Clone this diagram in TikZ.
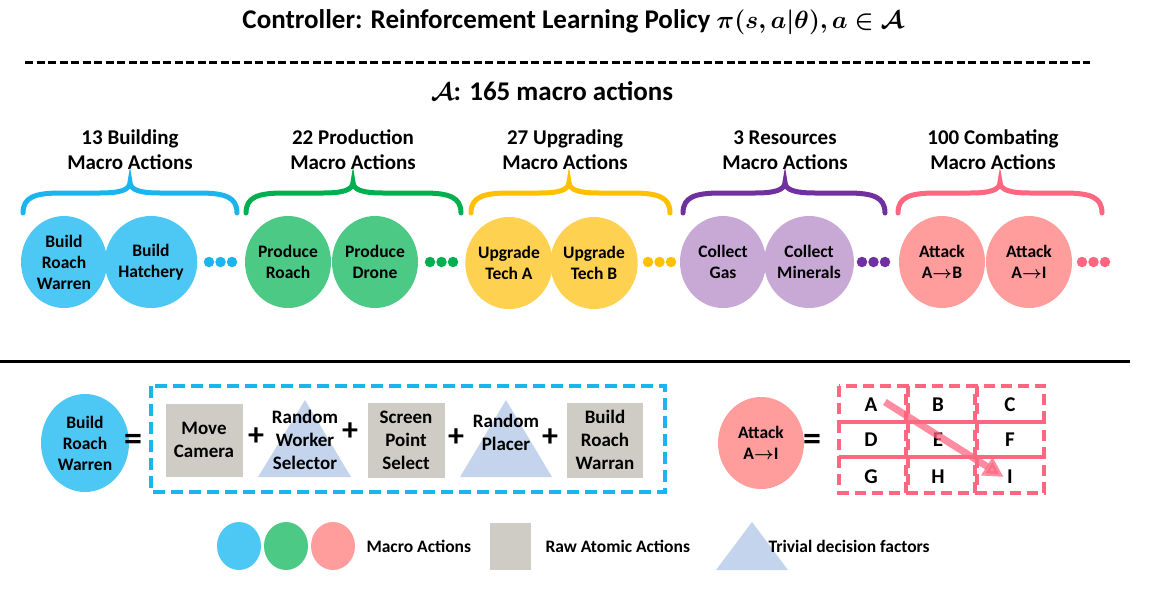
\documentclass[tikz,border=0pt]{standalone}
\usepackage{fontspec}
\usepackage{bm}
\setmainfont{Carlito}
\usetikzlibrary{shapes.geometric,arrows.meta}
\definecolor{cblue}{HTML}{4DC8F4}
\definecolor{cgreen}{HTML}{4CC985}
\definecolor{cyellow}{HTML}{FFD150}
\definecolor{cpurple}{HTML}{C8A9D5}
\definecolor{cpink}{HTML}{FF9C9C}
\definecolor{bblue}{HTML}{1CB4EC}
\definecolor{bgreen}{HTML}{00B050}
\definecolor{byellow}{HTML}{FFC000}
\definecolor{bpurple}{HTML}{7030A0}
\definecolor{bpink}{HTML}{FF6680}
\definecolor{rawgray}{HTML}{CFCCC5}
\definecolor{trib}{HTML}{C3D4EC}
\tikzset{
  macro/.style={ellipse, minimum width=86pt, minimum height=92pt, inner sep=0pt,
    align=center, font=\bfseries\fontsize{17.5}{21}\selectfont, text=black},
  header/.style={align=center, font=\bfseries\fontsize{21}{25}\selectfont},
  bracepath/.style={line width=5pt, line cap=round},
  dotmark/.style={circle, inner sep=0pt, minimum size=10.5pt},
  rawbox/.style={fill=rawgray, align=center, font=\bfseries\fontsize{19}{23}\selectfont},
  plus/.style={font=\bfseries\fontsize{32}{32}\selectfont},
  tri/.style={fill=trib},
  tritext/.style={align=center, font=\bfseries\fontsize{19}{23}\selectfont},
  cell/.style={draw=bpink, line width=4pt, dash pattern=on 11pt off 6pt},
  letter/.style={font=\bfseries\fontsize{21}{22}\selectfont},
  legend/.style={font=\bfseries\fontsize{17.5}{20}\selectfont, anchor=west},
}
% braces over each group: left end, peak, right end
\newcommand{\groupbrace}[4]{%
  \draw[bracepath, #4] (#1,213) .. controls (#1,197) and (#1+12,193) .. (#1+38,193)
    -- (#2-30,193) .. controls (#2-10,193) and (#2,190) .. (#2,182)
    .. controls (#2,190) and (#2+10,193) .. (#2+30,193)
    -- (#3-38,193) .. controls (#3-12,193) and (#3,197) .. (#3,213);}
\begin{document}
\begin{tikzpicture}[x=1pt,y=-1pt]
\useasboundingbox (0,0) rectangle (1151,592);

% title and separators
\node[font=\bfseries\fontsize{27}{30}\selectfont] (title) at (573,22)
  {Controller: Reinforcement Learning Policy $\bm{\pi(s,a|\theta), a\in\mathcal{A}}$};
\coordinate (dl) at (25,62);
\coordinate (dr) at (1090,62);
\draw[line width=3pt, dash pattern=on 8pt off 3.5pt] (dl) -- (dr);
\node[font=\bfseries\fontsize{27}{30}\selectfont] (space) at (552,91)
  {$\bm{\mathcal{A}}$: 165 macro actions};

% group headers
\node[header] (h1) at (130,150) {13 Building\\Macro Actions};
\node[header] (h2) at (353,150) {22 Production\\Macro Actions};
\node[header] (h3) at (565,150) {27 Upgrading\\Macro Actions};
\node[header] (h4) at (785,150) {3 Resources\\Macro Actions};
\node[header] (h5) at (993,150) {100 Combating\\Macro Actions};

\groupbrace{23}{130}{237}{bblue}
\groupbrace{246}{353}{461}{bgreen}
\groupbrace{471}{569}{670}{byellow}
\groupbrace{683}{785}{885}{bpurple}
\groupbrace{898}{1000}{1102}{bpink}

% macro action circles
\node[macro, fill=cblue] (m1) at (64,262) {Build\\Roach\\Warren};
\node[macro, fill=cblue] (m2) at (151,262) {Build\\Hatchery};
\node[macro, fill=cgreen] (m3) at (288,262) {Produce\\Roach};
\node[macro, fill=cgreen] (m4) at (375,262) {Produce\\Drone};
\node[macro, fill=cyellow] (m5) at (509,263) {Upgrade\\Tech A};
\node[macro, fill=cyellow] (m6) at (594,263) {Upgrade\\Tech B};
\node[macro, fill=cpurple] (m7) at (723,262) {Collect\\Gas};
\node[macro, fill=cpurple] (m8) at (809,262) {Collect\\Minerals};
\node[macro, fill=cpink] (m9) at (942,262) {Attack\\A$\bm{\rightarrow}$B};
\node[macro, fill=cpink] (m10) at (1029,262) {Attack\\A$\bm{\rightarrow}$I};

% ellipsis dots
\foreach \x/\c/\n in {209/bblue/a, 430/bgreen/b, 648/byellow/c, 862/bpurple/d, 1082/bpink/e}{
  \node[dotmark, fill=\c] (dot\n1) at (\x,262) {};
  \node[dotmark, fill=\c] (dot\n2) at (\x+11.5,262) {};
  \node[dotmark, fill=\c] (dot\n3) at (\x+23,262) {};
}

% divider
\coordinate (sl) at (0,361);
\coordinate (sr) at (1130,361);
\draw[line width=3pt] (sl) -- (sr);

% decomposition of Build Roach Warren
\node[macro, fill=cblue, minimum width=88pt, minimum height=98pt] (brw) at (85,443) {Build\\Roach\\Warren};
\node[font=\bfseries\fontsize{36}{36}\selectfont] (eq1) at (133,442) {=};
\draw[bblue, line width=4pt, dash pattern=on 12pt off 6pt] (151,386) rectangle (665,492);

\node[rawbox, minimum width=77pt, minimum height=73pt] (mc) at (204,440) {Move\\Camera};
\fill[tri] (258,477) -- (305,400) -- (351,477) -- cycle;
\node[tritext] (rws) at (305,440) {Random\\Worker\\Selector};
\node[rawbox, minimum width=77pt, minimum height=75pt] (sps) at (406,440) {Screen\\Point\\Select};
\fill[tri] (460,477) -- (506,400) -- (552,477) -- cycle;
\node[tritext] (rp) at (506,432) {Random\\Placer};
\node[rawbox, minimum width=76pt, minimum height=75pt] (brwa) at (605,440) {Build\\Roach\\Warran};
\node[plus] (p1) at (256,437) {+};
\node[plus] (p2) at (350,432) {+};
\node[plus] (p3) at (456,438) {+};
\node[plus] (p4) at (550,438) {+};

% decomposition of Attack A->I
\node[macro, fill=cpink] (att) at (761,443) {Attack\\A$\bm{\rightarrow}$I};
\node[font=\bfseries\fontsize{36}{36}\selectfont] (eq2) at (812,442) {=};
\foreach \i in {0,1,2}{
  \foreach \j in {0,1,2}{
    \draw[cell] (839+69*\i,386+35.5*\j) rectangle (839+69*\i+67,386+35.5*\j+35.5);
  }
}
\node[letter] (gA) at (871,405) {A};
\node[letter] (gB) at (938,405) {B};
\node[letter] (gC) at (1010,405) {C};
\node[letter] (gD) at (871,440) {D};
\node[letter] (gE) at (938,440) {E};
\node[letter] (gF) at (1010,440) {F};
\node[letter] (gG) at (871,477) {G};
\node[letter] (gH) at (938,477) {H};
\node[letter] (gI) at (1010,477) {I};
\draw[bpink, opacity=0.75, line width=7pt, -{Triangle[length=20pt,width=20pt]}]
  (gA.east) ++(4,-3) coordinate (as) -- (gI.west);

% legend
\node[ellipse, fill=cblue, minimum width=44pt, minimum height=48pt] (l1) at (239,546) {};
\node[ellipse, fill=cgreen, minimum width=44pt, minimum height=48pt] (l2) at (286,546) {};
\node[ellipse, fill=cpink, minimum width=44pt, minimum height=48pt] (l3) at (333,546) {};
\node[legend] (lt1) at (363,546) {Macro Actions};
\node[fill=rawgray, minimum width=41pt, minimum height=47pt] (l4) at (510,546) {};
\node[legend] (lt2) at (542,546) {Raw Atomic Actions};
\fill[trib] (716,570) -- (752,522) -- (788,570) -- cycle;
\coordinate (l5) at (752,546);
\node[legend] (lt3) at (765,546) {Trivial decision factors};
\end{tikzpicture}
\end{document}
